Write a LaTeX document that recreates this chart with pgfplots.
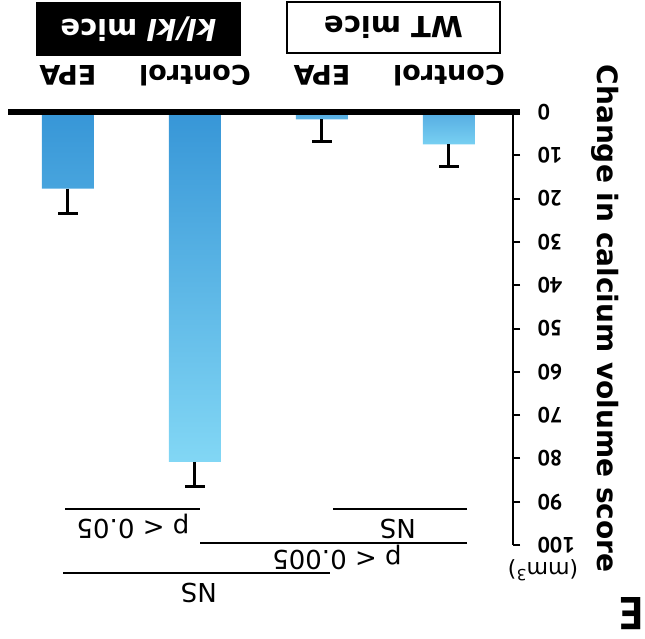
\documentclass[border=0pt]{standalone}
\usepackage{graphicx}
\usepackage{fontspec}
\setmainfont{DejaVu Sans}
\newfontfamily\ptsans{PT Sans}
\usepackage{pgfplots}
\usepackage{pgfplotstable}
\pgfplotsset{compat=1.18}
\definecolor{bardark}{RGB}{55,150,215}
\definecolor{barlight}{RGB}{130,215,245}
\definecolor{wtdark}{RGB}{85,172,226}
\definecolor{wtlight}{RGB}{120,208,242}
\pgfplotstableread{
x y e
0 7.5 5.2
1 1.7 5.2
}\wtdata
\pgfplotstableread{
x y e
2 80.8 5.6
3 17.7 5.8
}\kldata
\begin{document}
\rotatebox{180}{%
\begin{tikzpicture}
\path[use as bounding box] (-132pt,-112pt) rectangle (513pt,526pt);
\begin{axis}[
  at={(0pt,0pt)}, anchor=south west,
  scale only axis, width=505pt, height=433pt,
  xmin=-0.504, xmax=3.472, ymin=0, ymax=100,
  clip=false,
  axis lines*=left,
  x axis line style={draw=none},
  y axis line style={line width=2pt},
  xtick={0,1,2,3},
  xticklabels={Control,EPA,Control,EPA},
  xtick style={draw=none},
  xticklabel style={font=\bfseries\fontsize{27}{27}\selectfont, anchor=base, inner sep=1pt, yshift=-40pt},
  ytick={0,10,...,100},
  tick align=outside,
  major tick length=7pt,
  ytick style={line width=2pt, black},
  /pgf/number format/assume math mode=true,
  yticklabel style={font=\ptsans\bfseries\fontsize{22}{22}\selectfont, anchor=east, xshift=-14pt},
  ylabel={Change in calcium volume score},
  ylabel style={at={(rel axis cs:-0.182,0.477)}, anchor=center, font=\bfseries\fontsize{28}{28}\selectfont},
  errstyle/.style={draw=none, mark=none, forget plot,
    error bars/.cd, y dir=plus, y explicit, error mark=|,
    error bar style={draw=black, solid, line width=3pt},
    error mark options={draw=black, line width=3pt, mark size=10pt}},
]
\addplot[ybar, bar width=52pt, bar shift=0pt, draw=none, bottom color=wtdark, top color=wtlight]
  table[x=x, y=y] {\wtdata};
\addplot[ybar, bar width=52pt, bar shift=0pt, draw=none, bottom color=bardark, top color=barlight, middle color=bardark!50!barlight]
  table[x=x, y=y] {\kldata};
\addplot[errstyle] table[x=x, y=y, y error=e] {\wtdata};
\addplot[errstyle] table[x=x, y=y, y error=e] {\kldata};
% baseline
\draw[line width=6pt] (axis cs:-0.559,0) -- (axis cs:3.472,0);
% group boxes
\node[draw=black, line width=2pt, fill=white, minimum width=213pt, minimum height=51pt, inner sep=0pt, font=\bfseries\fontsize{29}{29}\selectfont] at (axis cs:0.437,-19.5) {WT mice};
\node[draw=black, line width=2pt, fill=black, text=white, minimum width=203pt, minimum height=52pt, inner sep=0pt, font=\bfseries\fontsize{29}{29}\selectfont] at (axis cs:2.445,-19.2) {\itshape kl/kl\upshape{} mice};
% significance
\draw[line width=1.5pt] (axis cs:1.961,91.7) -- (axis cs:3.024,91.7);
\node[anchor=base, font=\fontsize{26}{26}\selectfont, inner sep=0pt] at (axis cs:2.488,94.2) {p < 0.05};
\draw[line width=1.5pt] (axis cs:-0.142,91.7) -- (axis cs:0.913,91.7);
\node[anchor=base, font=\fontsize{26}{26}\selectfont, inner sep=0pt] at (axis cs:0.402,94.2) {NS};
\draw[line width=1.5pt] (axis cs:-0.142,99.5) -- (axis cs:1.961,99.5);
\node[anchor=base, font=\fontsize{26}{26}\selectfont, inner sep=0pt] at (axis cs:0.882,101.2) {p < 0.005};
\draw[line width=1.5pt] (axis cs:0.937,106.5) -- (axis cs:3.039,106.5);
\node[anchor=base, font=\fontsize{26}{26}\selectfont, inner sep=0pt] at (axis cs:1.969,108.8) {NS};
% unit and panel letter
\node[font=\fontsize{22}{22}\selectfont] at (axis cs:-0.740,105.8) {(mm\textsuperscript{3})};
\node[font=\ptsans\bfseries\fontsize{46}{46}\selectfont] at (axis cs:-1.433,115.8) {E};
\end{axis}
\end{tikzpicture}}
\end{document}
